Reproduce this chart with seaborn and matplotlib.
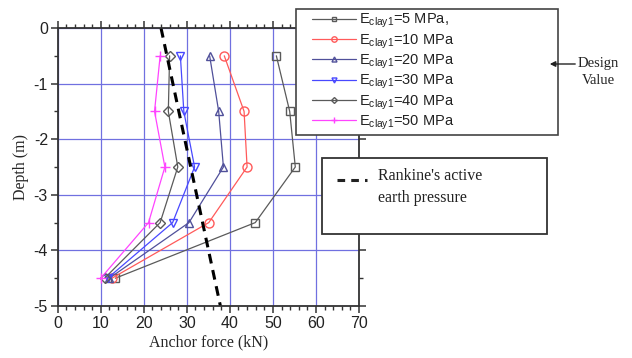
import numpy as np
import pandas as pd
import seaborn as sns
import matplotlib
matplotlib.use("Agg")
import matplotlib.pyplot as plt
from matplotlib.ticker import MultipleLocator
from matplotlib.patches import Rectangle, FancyArrowPatch
from matplotlib.lines import Line2D

depth = [-0.5, -1.5, -2.5, -3.5, -4.5]
force_5 = [50.8, 53.9, 55.2, 45.9, 13.4]
force_10 = [38.7, 43.3, 44.0, 35.1, 12.6]
force_20 = [35.3, 37.4, 38.5, 30.5, 12.0]
force_30 = [28.5, 29.3, 31.8, 26.7, 11.6]
force_40 = [26.0, 25.7, 27.9, 23.8, 10.9]
force_50 = [23.8, 22.5, 24.9, 21.1, 10.0]
labels = [r"E$_{\mathrm{clay1}}$=5 MPa,", r"E$_{\mathrm{clay1}}$=10 MPa",
          r"E$_{\mathrm{clay1}}$=20 MPa", r"E$_{\mathrm{clay1}}$=30 MPa",
          r"E$_{\mathrm{clay1}}$=40 MPa", r"E$_{\mathrm{clay1}}$=50 MPa"]
rankine_force = [24.0, 37.8]
rankine_depth = [0.0, -5.0]

series = [force_5, force_10, force_20, force_30, force_40, force_50]
colors = ["#5a5a5a", "#ff5a5a", "#50509a", "#4848ff", "#5a5a5a", "#ff44ff"]
markers = ["s", "o", "^", "v", "D", "+"]
msizes = [5.5, 6.5, 6, 6, 5, 6.5]

sns.set_theme(style="white")
plt.rcParams["font.family"] = ["Liberation Sans", "DejaVu Sans"]
plt.rcParams["mathtext.default"] = "regular"
plt.rcParams["mathtext.fontset"] = "custom"
plt.rcParams["mathtext.rm"] = "Liberation Sans"
plt.rcParams["axes.unicode_minus"] = False

fig = plt.figure(figsize=(6.32, 3.58), dpi=100)
ax = fig.add_axes([57.7/632, 1-306/358, (359-57.7)/632, (306-28)/358])

for vals, lab, c, m, ms in zip(series, labels, colors, markers, msizes):
    df = pd.DataFrame({"force": vals, "depth": depth})
    sns.lineplot(data=df, x="force", y="depth", sort=False, estimator=None,
                 ax=ax, color=c, marker=m, markersize=ms, lw=0.9,
                 markeredgecolor=c, markerfacecolor="none", markeredgewidth=1.0,
                 label=lab, legend=False)

rk = pd.DataFrame({"force": rankine_force, "depth": rankine_depth})
sns.lineplot(data=rk, x="force", y="depth", sort=False, estimator=None, ax=ax,
             color="black", lw=2.2, dashes=False, legend=False)
ax.lines[-1].set_linestyle((0, (3.2, 2.2)))

ax.set_xlim(0, 70)
ax.set_ylim(-5, 0)
ax.xaxis.set_major_locator(MultipleLocator(10))
ax.xaxis.set_minor_locator(MultipleLocator(2))
ax.yaxis.set_major_locator(MultipleLocator(1))
ax.yaxis.set_minor_locator(MultipleLocator(0.5))
ax.grid(True, which="major", color="#7070e0", lw=0.9)
ax.set_axisbelow(True)
for s in ax.spines.values():
    s.set_color("#333333")
    s.set_linewidth(1.3)
ax.tick_params(which="both", direction="out", top=True, right=True,
               bottom=True, left=True, colors="#333333", labelcolor="#222222")
ax.tick_params(which="major", length=5, width=1.1, labelsize=11.5, pad=2)
ax.tick_params(which="minor", length=3, width=1.0)
ax.set_xlabel("Anchor force (kN)", family=["Liberation Serif"], fontsize=11.5, labelpad=3)
ax.set_ylabel("Depth (m)", family=["Liberation Serif"], fontsize=11.5, labelpad=3)

# legend box
fig.patches.append(Rectangle((296/632, 1-135/358), (558-296)/632, (135-9)/358,
                             transform=fig.transFigure, facecolor="white",
                             edgecolor="#444444", lw=1.2, zorder=3))
handles, labs = ax.get_legend_handles_labels()
leg = fig.legend(handles, labs, loc="upper left", bbox_to_anchor=(309/632, 1-9/358),
                 bbox_transform=fig.transFigure, frameon=False, fontsize=10.5,
                 handlelength=3.0, handletextpad=0.2, labelspacing=0.14,
                 borderaxespad=0, borderpad=0.2, markerscale=0.6)
leg.set_zorder(4)
for t in leg.get_texts():
    t.set_color("#222222")

# Rankine box
fig.patches.append(Rectangle((322/632, 1-234/358), (547-322)/632, (234-158)/358,
                             transform=fig.transFigure, facecolor="white",
                             edgecolor="#333333", lw=1.3, zorder=3))
fig.lines.append(Line2D([337/632, 367/632], [1-180/358, 1-180/358], transform=fig.transFigure,
                        color="#222222", lw=2.2, linestyle=(0, (2.5, 2.0)), zorder=4))
fig.text(378/632, 1-187/358, "Rankine's active\nearth pressure", family=["Liberation Serif"],
         fontsize=11.5, va="center", ha="left", color="#222222", linespacing=1.45, zorder=4)

# Design value annotation
fig.text(598/632, 1-72/358, "Design\nValue", family=["Liberation Serif"], fontsize=10.5,
         ha="center", va="center", color="#222222", linespacing=1.3, multialignment="center")
arrow = FancyArrowPatch((578/632, 1-64/358), (547/632, 1-64/358), transform=fig.transFigure,
                        arrowstyle="-|>", color="#222222", lw=1.0, mutation_scale=8, zorder=6)
fig.patches.append(arrow)

fig.savefig("out.png", dpi=100)
